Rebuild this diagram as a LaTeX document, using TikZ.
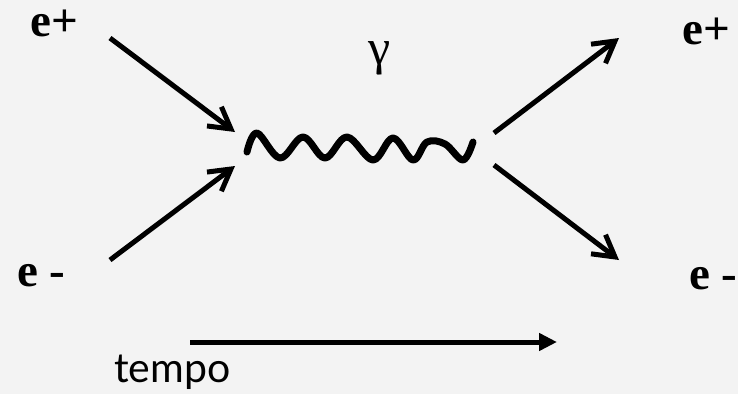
\documentclass[tikz,border=0pt]{standalone}
\usepackage{fontspec}
\newfontfamily\lserif{Liberation Serif}[BoldFont={* Bold}]
\newfontfamily\tempofont{Lato}
\newcommand\pfont{\lserif\bfseries\fontsize{47}{47}\selectfont}
\newcommand\gfont{\lserif\fontsize{50}{50}\selectfont}
\newcommand\tfont{\tempofont\fontsize{41}{41}\selectfont}
\usetikzlibrary{arrows.meta}
\definecolor{bgcol}{RGB}{243,243,243}
\begin{document}
\begin{tikzpicture}[x=1pt,y=-1pt,
  fermion/.style={line width=5pt,-{Straight Barb[length=21pt,width=24pt]}},
  timearrow/.style={line width=5pt,-{Triangle[length=18pt,width=17pt]}},
  photon/.style={line width=7pt,line cap=round,line join=round},
  plabel/.style={inner sep=0pt,anchor=base west,font=\pfont},
  glabel/.style={inner sep=0pt,font=\gfont},
  tlabel/.style={inner sep=0pt,anchor=base west,font=\tfont}]
\fill[bgcol] (0,0) rectangle (738,394);
\useasboundingbox (0,0) rectangle (738,394);
% endpoints
\coordinate (a1) at (110,38);  \coordinate (a1t) at (235,132);
\coordinate (a2) at (110,260); \coordinate (a2t) at (235,166);
\coordinate (b1) at (494,133); \coordinate (b1t) at (619,38);
\coordinate (b2) at (494,165); \coordinate (b2t) at (619,260);
\coordinate (t0) at (190,342); \coordinate (t1) at (557,342);
% labels
\node[plabel] (ep1) at (30,36) {e+};
\node[plabel] (em1) at (17,286) {e -};
\node[plabel] (ep2) at (682,44) {e+};
\node[plabel] (em2) at (689,289) {e -};
\node[glabel] (gam) at (380,58) {γ};
\node[tlabel] (tmp) at (114,382) {tempo};
% fermion lines
\draw[fermion] (a1) -- (a1t);
\draw[fermion] (a2) -- (a2t);
\draw[fermion] (b1) -- (b1t);
\draw[fermion] (b2) -- (b2t);
% photon
\draw[photon] plot[smooth,tension=0.6] coordinates {(247,152) (257,133) (280,158) (303,137) (325,158) (347,137) (373,160) (393,138) (413,160) (427,142) (445,144) (463,160) (473,142)};
% time arrow
\draw[timearrow] (t0) -- (t1);
\end{tikzpicture}
\end{document}
